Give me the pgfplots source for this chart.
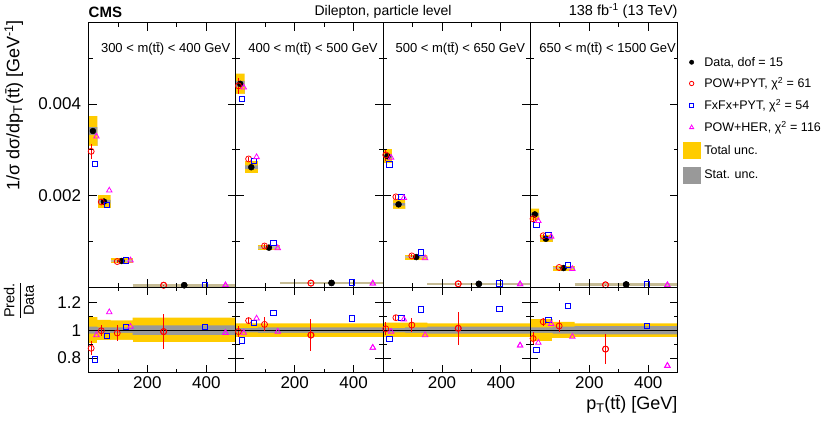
\documentclass[border=0pt]{standalone}
\usepackage{pgfplots}
\pgfplotsset{compat=1.18}
\usepackage{pgfplotstable}
\usepackage{fontspec}
\setmainfont{Liberation Sans}
\setsansfont{Liberation Sans}
\definecolor{cmsyellow}{RGB}{255,204,0}
\definecolor{cmsgray}{RGB}{153,153,153}
\definecolor{cmstan}{RGB}{198,188,150}
\definecolor{cmsmag}{RGB}{255,0,255}
\newcommand{\fs}[1]{\fontsize{#1}{#1}\selectfont}

% columns: bin low edge, x of data / POW+PYT / FxFx+PYT / POW+HER markers,
% data value (x 1e-3 GeV^-1), ratios to data, rel. error of POW+PYT, rel. total and stat unc.
\pgfplotstableread{
e xc xr xb xm d r re b m t s
0 15 9 21 27 3.41 0.87 0.05 0.79 0.965 0.095 0.025
30 52.5 43.5 61.5 70.5 1.87 0.996 0.04 0.958 1.13 0.075 0.02
75 112.5 97.5 127.5 142.5 0.574 0.98 0.06 1.025 1.025 0.07 0.02
150 325 255 395 465 0.045 0.99 0.128 1.025 0.98 0.09 0.035
500 325 255 395 465 0.045 0.99 0.128 1.025 0.98 0.09 0.035
}\tabA
\pgfplotstableread{
e xc xr xb xm d r re b m t s
0 15 9 21 27 4.44 0.99 0.04 0.927 0.982 0.05 0.015
30 52.5 43.5 61.5 70.5 2.62 1.069 0.02 1.054 1.085 0.05 0.015
75 112.5 97.5 127.5 142.5 0.865 1.042 0.05 1.126 0.99 0.05 0.02
150 325 255 395 465 0.095 0.965 0.118 1.085 0.874 0.05 0.02
500 325 255 395 465 0.095 0.965 0.118 1.085 0.874 0.05 0.02
}\tabB
\pgfplotstableread{
e xc xr xb xm d r re b m t s
0 15 9 21 27 2.86 1.01 0.048 0.939 0.99 0.055 0.015
30 52.5 43.5 61.5 70.5 1.81 1.09 0.02 1.09 1.078 0.055 0.015
75 112.5 97.5 127.5 142.5 0.66 1.037 0.05 1.15 0.965 0.055 0.02
150 325 255 395 465 0.075 1.014 0.12 1.155 0.89 0.05 0.025
500 325 255 395 465 0.075 1.014 0.12 1.155 0.89 0.05 0.025
}\tabC
\pgfplotstableread{
e xc xr xb xm d r re b m t s
0 15 9 21 27 1.59 0.94 0.05 0.86 0.91 0.08 0.02
30 52.5 43.5 61.5 70.5 1.06 1.061 0.03 1.073 1.045 0.08 0.02
75 112.5 97.5 127.5 142.5 0.42 1.03 0.045 1.174 0.953 0.06 0.025
150 325 255 395 465 0.062 0.864 0.11 1.032 0.744 0.05 0.03
500 325 255 395 465 0.062 0.864 0.11 1.032 0.744 0.05 0.03
}\tabD

\pgfplotsset{
  cmsbase/.style={scale only axis, width=147.3pt, xmin=0, xmax=500,
    xtick={200,400}, minor xtick={100,300}, tick align=inside,
    major tick length=8pt, minor tick length=4pt,
    axis on top=true,
    axis line style={line width=1.1pt},
    tick style={black, line width=0.9pt},
    ticklabel style={font=\fs{17}},
    /pgf/number format/assume math mode=true},
  topax/.style={cmsbase, height=264.6pt, ymin=0, ymax=5.774,
    ytick={2,4}, minor ytick={1,3,5}, xticklabels={}, yticklabels={}},
  ratax/.style={cmsbase, height=85.4pt, ymin=0.694, ymax=1.309,
    ytick={0.8,1,1.2}, minor ytick={0.9,1.1}, xticklabels={200,400}, yticklabels={}},
  band/.style={ybar interval, draw=none, fill=#1, forget plot},
  wband/.style={ybar interval, draw=white, line width=0.7pt, fill=white, forget plot},
}

% bands built by layering interval bars: total(hi), stat(hi), total(lo of stat), white(lo of total)
\newcommand{\TopPlots}[1]{%
  \addplot[band=cmsyellow] table[x=e, y expr=\thisrow{d}*(1+\thisrow{t})]{#1};
  \addplot[band=cmsgray] table[x=e, y expr=\thisrow{d}*(1+\thisrow{s})]{#1};
  \addplot[band=cmsyellow] table[x=e, y expr=\thisrow{d}*(1-\thisrow{s})]{#1};
  \addplot[wband] table[x=e, y expr=\thisrow{d}*(1-\thisrow{t})]{#1};
  \addplot[cmsyellow, line width=5pt, jump mark left, forget plot, restrict x to domain=75:150] table[x=e, y=d]{#1};
  \addplot[cmstan, line width=2.6pt, jump mark left, forget plot, restrict x to domain=75:500] table[x=e, y=d]{#1};
  \addplot[only marks, mark=*, mark size=3pt, black, forget plot] table[x=xc, y=d]{#1};
  \addplot[only marks, mark=o, mark size=3pt, red, line width=0.8pt, forget plot,
    error bars/.cd, y dir=both, y explicit, error mark=none, error bar style={line width=1pt}]
    table[x=xr, y expr=\thisrow{d}*\thisrow{r}, y error expr=\thisrow{d}*\thisrow{re}]{#1};
  \addplot[only marks, mark=square, mark size=2.7pt, blue, line width=0.8pt, forget plot]
    table[x=xb, y expr=\thisrow{d}*\thisrow{b}]{#1};
  \addplot[only marks, mark=triangle, mark size=3.2pt, cmsmag, line width=0.8pt, forget plot]
    table[x=xm, y expr=\thisrow{d}*\thisrow{m}]{#1};
}
\newcommand{\RatioPlots}[1]{%
  \addplot[band=cmsyellow] table[x=e, y expr=1+\thisrow{t}]{#1};
  \addplot[band=cmsgray] table[x=e, y expr=1+\thisrow{s}]{#1};
  \addplot[band=cmsyellow] table[x=e, y expr=1-\thisrow{s}]{#1};
  \addplot[wband] table[x=e, y expr=1-\thisrow{t}]{#1};
  \addplot[black, line width=1pt, forget plot] coordinates {(0,1) (500,1)};
  \addplot[only marks, mark=o, mark size=3pt, red, line width=0.8pt, forget plot,
    error bars/.cd, y dir=both, y explicit, error mark=none, error bar style={line width=1pt}]
    table[x=xr, y=r, y error=re]{#1};
  \addplot[only marks, mark=square, mark size=2.7pt, blue, line width=0.8pt, forget plot]
    table[x=xb, y=b]{#1};
  \addplot[only marks, mark=triangle, mark size=3.2pt, cmsmag, line width=0.8pt, forget plot]
    table[x=xm, y=m]{#1};
}

\begin{document}
\begin{tikzpicture}
\useasboundingbox (0,0) rectangle (822pt,425pt);

% ---------- top panels ----------
\begin{axis}[topax, at={(88.5pt,137.7pt)}, anchor=south west, yticklabels={0.002,0.004},
  yticklabel style={xshift=-4pt}]
\TopPlots{\tabA}
\end{axis}
\begin{axis}[topax, at={(235.8pt,137.7pt)}, anchor=south west]
\TopPlots{\tabB}
\end{axis}
\begin{axis}[topax, at={(383.1pt,137.7pt)}, anchor=south west]
\TopPlots{\tabC}
\end{axis}
\begin{axis}[topax, at={(530.4pt,137.7pt)}, anchor=south west,
  legend style={at={(1.034,0.875)}, anchor=north west, draw=none, fill=none,
    inner sep=0pt, font=\fs{12.5}, row sep=8pt, legend cell align=left,
    nodes={inner sep=1pt, text depth=0.15em},
    /tikz/every odd column/.append style={column sep=3pt}}]
\TopPlots{\tabD}
\addlegendimage{only marks, mark=*, mark size=2.2pt, black}
\addlegendentry{Data, dof = 15}
\addlegendimage{only marks, mark=o, mark size=2.2pt, red, line width=0.8pt}
\addlegendentry{POW+PYT, χ\textsuperscript{2} = 61}
\addlegendimage{only marks, mark=square, mark size=2pt, blue, line width=0.8pt}
\addlegendentry{FxFx+PYT, χ\textsuperscript{2} = 54}
\addlegendimage{only marks, mark=triangle, mark size=2.4pt, cmsmag, line width=0.8pt}
\addlegendentry{POW+HER, χ\textsuperscript{2} = 116}
\addlegendimage{legend image code/.code={\fill[cmsyellow] (0pt,-8pt) rectangle (17pt,8pt);}}
\addlegendentry{Total unc.}
\addlegendimage{legend image code/.code={\fill[cmsgray] (0pt,-8pt) rectangle (17pt,8pt);}}
\addlegendentry{Stat. unc.}
\end{axis}

% ---------- ratio panels ----------
\begin{axis}[ratax, at={(88.5pt,52.3pt)}, anchor=south west, yticklabels={0.8,1,1.2},
  yticklabel style={xshift=-4pt}]
\RatioPlots{\tabA}
\end{axis}
\begin{axis}[ratax, at={(235.8pt,52.3pt)}, anchor=south west]
\RatioPlots{\tabB}
\end{axis}
\begin{axis}[ratax, at={(383.1pt,52.3pt)}, anchor=south west]
\RatioPlots{\tabC}
\end{axis}
\begin{axis}[ratax, at={(530.4pt,52.3pt)}, anchor=south west]
\RatioPlots{\tabD}
\end{axis}

% ---------- texts ----------
\node[anchor=base west, inner sep=0pt, font=\bfseries\fs{15}] at (88.5pt,407.7pt) {CMS};
\node[anchor=base, inner sep=0pt, font=\fs{14}] at (383.1pt,409.5pt) {Dilepton, particle level};
\node[anchor=base east, inner sep=0pt, font=\fs{14.5}] at (677.7pt,409.5pt) {138 fb\textsuperscript{-1} (13 TeV)};
\node[anchor=base, inner sep=0pt, font=\fs{13}] at (165.7pt,372.3pt) {300 < m(t\={t}) < 400 GeV};
\node[anchor=base, inner sep=0pt, font=\fs{13}] at (313pt,372.3pt) {400 < m(t\={t}) < 500 GeV};
\node[anchor=base, inner sep=0pt, font=\fs{13}] at (460.3pt,372.3pt) {500 < m(t\={t}) < 650 GeV};
\node[anchor=base, inner sep=0pt, font=\fs{13}] at (607.6pt,372.3pt) {650 < m(t\={t}) < 1500 GeV};
\node[rotate=90, anchor=base east, inner sep=0pt, font=\fs{18}] at (19.5pt,405pt)
  {1/σ dσ/dp\textsubscript{T}(t\={t}) [GeV\textsuperscript{-1}]};
\node[rotate=90, inner sep=0pt, font=\fs{14.5}] at (19pt,124.5pt)
  {$\displaystyle\frac{\mbox{Pred.}}{\mbox{Data}}$};
\node[anchor=base east, inner sep=0pt, font=\fs{18}] at (677.7pt,15.5pt) {p\textsubscript{T}(t\={t}) [GeV]};
\end{tikzpicture}
\end{document}
